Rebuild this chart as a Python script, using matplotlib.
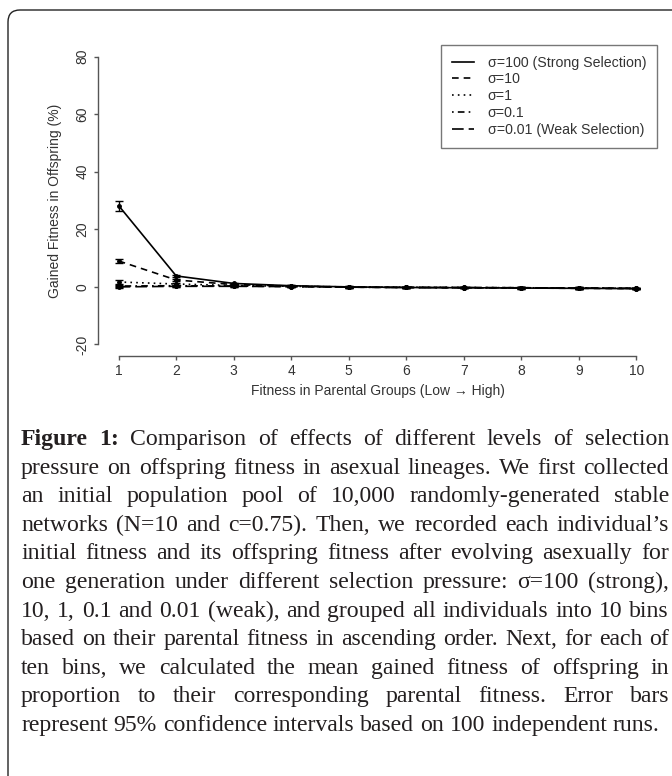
import matplotlib.pyplot as plt
from matplotlib.patches import FancyBboxPatch

# Dados (ganho medio de fitness, %)
grupos = [1, 2, 3, 4, 5, 6, 7, 8, 9, 10]
sigma100 = [28.2, 3.8, 1.2, 0.4, 0.0, -0.2, -0.3, -0.4, -0.5, -0.6]
erro100 = [1.8, 0.4, 0.3, 0.2, 0.2, 0.2, 0.2, 0.2, 0.2, 0.2]
sigma10 = [9.0, 2.4, 0.8, 0.3, -0.1, -0.2, -0.3, -0.4, -0.5, -0.6]
erro10 = [0.6, 0.4, 0.3, 0.2, 0.2, 0.2, 0.2, 0.2, 0.2, 0.2]
sigma1 = [1.7, 1.0, 0.5, 0.2, 0.0, -0.1, -0.2, -0.3, -0.4, -0.5]
erro1 = [0.8, 0.5, 0.3, 0.2, 0.2, 0.2, 0.2, 0.2, 0.2, 0.2]
sigma01 = [0.3, 0.4, 0.3, 0.1, -0.1, -0.2, -0.3, -0.3, -0.4, -0.5]
erro01 = [0.4, 0.4, 0.3, 0.2, 0.2, 0.2, 0.2, 0.2, 0.2, 0.2]
sigma001 = [0.0, 0.2, 0.2, 0.1, -0.1, -0.2, -0.2, -0.3, -0.4, -0.5]
erro001 = [0.4, 0.4, 0.3, 0.2, 0.2, 0.2, 0.2, 0.2, 0.2, 0.2]

rotulos = ['σ=100 (Strong Selection)', 'σ=10', 'σ=1', 'σ=0.1', 'σ=0.01 (Weak Selection)']
series = [sigma100, sigma10, sigma1, sigma01, sigma001]
erros = [erro100, erro10, erro1, erro01, erro001]
estilos = ['-', (0, (4, 3)), (0, (1, 2.5)), (0, (1, 2.5, 4, 2.5)), (0, (7, 3))]

legenda_txt = [
    'Figure 1: Comparison of effects of different levels of selection',
    'pressure on offspring fitness in asexual lineages. We first collected',
    'an initial population pool of 10,000 randomly-generated stable',
    'networks (N=10 and c=0.75). Then, we recorded each individual’s',
    'initial fitness and its offspring fitness after evolving asexually for',
    'one generation under different selection pressure: σ=100 (strong),',
    '10, 1, 0.1 and 0.01 (weak), and grouped all individuals into 10 bins',
    'based on their parental fitness in ascending order. Next, for each of',
    'ten bins, we calculated the mean gained fitness of offspring in',
    'proportion to their corresponding parental fitness. Error bars',
    'represent 95% confidence intervals based on 100 independent runs.',
]

W, H = 672, 776
plt.rcParams['font.family'] = ['Liberation Sans', 'DejaVu Sans']
plt.rcParams['axes.unicode_minus'] = False
fig = plt.figure(figsize=(W / 100, H / 100), dpi=100)

# moldura arredondada (lado direito e de baixo ficam fora da imagem)
caixa = FancyBboxPatch((0.08, -0.4), 7.2, 7.66 + 0.4, boxstyle='round,pad=0,rounding_size=0.12',
                       transform=fig.dpi_scale_trans, facecolor='none', edgecolor='#222222', lw=1.0)
fig.patches.append(caixa)

# area do grafico (estilo R: eixos destacados)
x0, x1 = 98 / W, 657 / W
y0, y1 = 1 - 356 / H, 1 - 45 / H
ax = fig.add_axes([x0, y0, x1 - x0, y1 - y0])
ax.set_xlim(0.64, 10.36)
ax.set_ylim(-24, 84)

for s, e, ls, lab in zip(series, erros, estilos, rotulos):
    ax.plot(grupos, s, color='black', lw=1.2, linestyle=ls, label=lab)
    ax.errorbar(grupos, s, yerr=e, fmt='o', ms=2.5, color='black', ecolor='black',
                elinewidth=1.0, capsize=3, capthick=1.0)

ax.spines['top'].set_visible(False)
ax.spines['right'].set_visible(False)
ax.spines['left'].set_bounds(-20, 80)
ax.spines['bottom'].set_bounds(1, 10)
for lado in ['left', 'bottom']:
    ax.spines[lado].set_color('#555555')
    ax.spines[lado].set_linewidth(1.0)

ax.set_xticks(grupos)
ax.set_yticks([-20, 0, 20, 40, 60, 80])
ax.tick_params(colors='#555555', labelcolor='#333333', labelsize=10, length=3, width=1.0, pad=3)
for t in ax.get_yticklabels():
    t.set_rotation(90)
    t.set_va('center')

ax.set_xlabel('Fitness in Parental Groups (Low → High)', fontsize=10, color='#333333', labelpad=4)
ax.set_ylabel('Gained Fitness in Offspring (%)', fontsize=10, color='#333333', labelpad=10)

leg = ax.legend(loc='upper right', borderaxespad=0, fontsize=10.2, frameon=True, fancybox=False,
                handlelength=1.55, handletextpad=1.0, labelspacing=0.2, borderpad=0.75)
leg.get_frame().set_edgecolor('#555555')
leg.get_frame().set_linewidth(1.0)
for t in leg.get_texts():
    t.set_color('#333333')

# legenda da figura, justificada
fig.canvas.draw()
rend = fig.canvas.get_renderer()
fonte = dict(family=['Liberation Serif', 'DejaVu Serif'], size=17.1, color='#231f20')
esq, dir = 21, 669
for i, linha in enumerate(legenda_txt):
    base = 1 - (445 + 28.6 * i) / H
    palavras = linha.split(' ')
    textos = []
    for j, p in enumerate(palavras):
        peso = 'bold' if (i == 0 and j < 2) else 'normal'
        t = fig.text(0, base, p, va='baseline', ha='left', fontweight=peso, **fonte)
        textos.append(t)
    larguras = [t.get_window_extent(rend).width for t in textos]
    if i < len(legenda_txt) - 1:
        gap = (dir - esq - sum(larguras)) / (len(palavras) - 1)
    else:
        gap = 5.9
    x = esq
    for t, w in zip(textos, larguras):
        t.set_x(x / W)
        x += w + gap

fig.savefig('out.png', dpi=100)
